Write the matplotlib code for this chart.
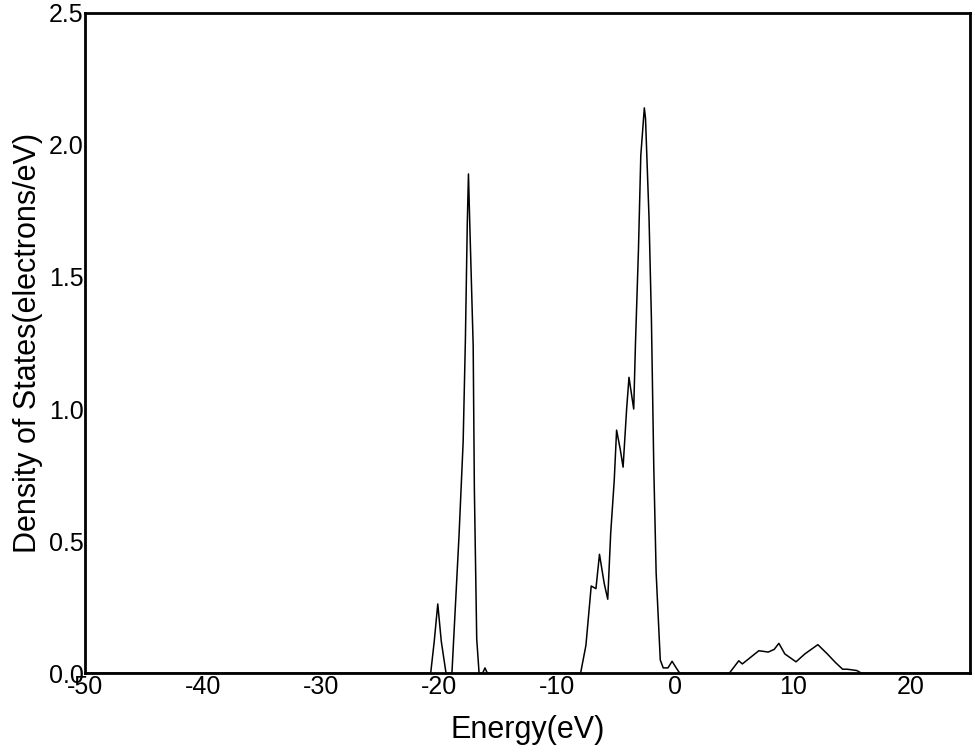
import matplotlib
matplotlib.use("Agg")
import matplotlib.pyplot as plt

# Energia (eV) dan DOS (electrons/eV)
energy = [-50, -21.0, -20.7, -20.4, -20.1, -19.8, -19.4, -18.9, -18.3, -17.95, -17.76, -17.6,
          -17.5, -17.4, -17.1, -17.0, -16.8, -16.6, -16.3, -16.1, -15.9, -8.0, -7.55, -7.1,
          -6.7, -6.4, -6.0, -5.7, -5.45, -5.15, -4.95, -4.65, -4.4, -4.1, -3.9, -3.5, -3.35,
          -3.1, -2.9, -2.6, -2.5, -2.2, -2.0, -1.8, -1.6, -1.25, -1.0, -0.6, -0.25, 0.1, 0.4,
          4.6, 5.4, 5.7, 6.4, 7.1, 7.9, 8.4, 8.8, 9.3, 10.25, 11.0, 12.1, 12.9, 13.6, 14.2,
          14.6, 15.4, 15.8, 25]
dos = [0, 0, 0, 0.12, 0.262, 0.12, 0, 0, 0.52, 0.875, 1.26, 1.70,
       1.89, 1.72, 1.24, 0.70, 0.13, 0, 0, 0.02, 0, 0, 0.105, 0.33,
       0.32, 0.45, 0.34, 0.28, 0.53, 0.73, 0.92, 0.85, 0.78, 1.0, 1.12, 1.0, 1.25,
       1.60, 1.96, 2.14, 2.10, 1.72, 1.34, 0.78, 0.38, 0.05, 0.02, 0.02, 0.045, 0.02, 0,
       0, 0.047, 0.035, 0.06, 0.085, 0.08, 0.09, 0.113, 0.073, 0.043, 0.073, 0.108, 0.073, 0.04, 0.015,
       0.015, 0.01, 0, 0]

x_ticks = [-50, -40, -30, -20, -10, 0, 10, 20]
y_ticks = [0.0, 0.5, 1.0, 1.5, 2.0, 2.5]

plt.rcParams["font.family"] = ["Liberation Sans", "DejaVu Sans"]
plt.rcParams["axes.unicode_minus"] = False
fig = plt.figure(figsize=(9.75, 7.53), dpi=100)
ax = fig.add_axes([0.087, 0.106, 0.908, 0.877])
ax.plot(energy, dos, color="black", linewidth=1.1)
ax.set_xlim(-50, 25)
ax.set_ylim(0, 2.5)
ax.set_xticks(x_ticks)
ax.set_yticks(y_ticks)
ax.set_xticklabels([str(v) for v in x_ticks])
ax.set_yticklabels([f"{v:.1f}" for v in y_ticks])
ax.tick_params(length=0, labelsize=18, pad=1)
for s in ax.spines.values():
    s.set_linewidth(2)
ax.set_xlabel("Energy(eV)", fontsize=22, labelpad=12)
ax.set_ylabel("Density of States(electrons/eV)", fontsize=22, labelpad=4)
fig.savefig("out.png", dpi=100)
